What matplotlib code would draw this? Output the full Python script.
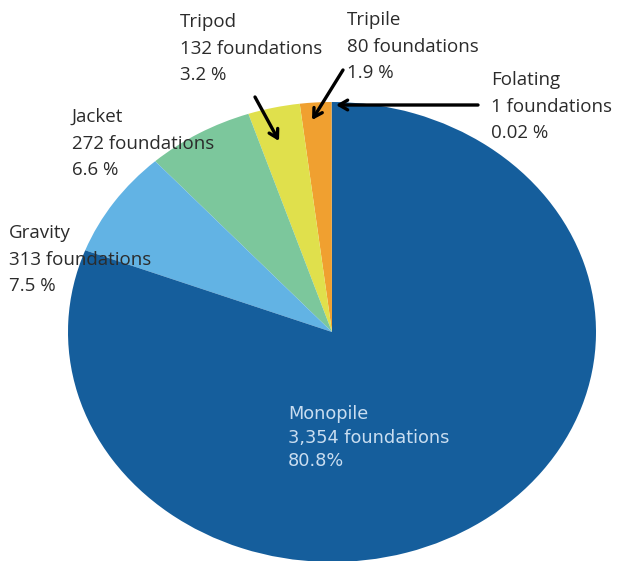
import matplotlib.pyplot as plt

# data, counter-clockwise from the top
names = ["Folating", "Tripile", "Tripod", "Jacket", "Gravity", "Monopile"]
counts = [1, 80, 132, 272, 313, 3354]
count_labels = ["1", "80", "132", "272", "313", "3,354"]
pct_labels = ["0.02 %", "1.9 %", "3.2 %", "6.6 %", "7.5 %", "80.8%"]
colors = ["#155e9c", "#f0a030", "#e0e04c", "#7cc79c", "#62b3e4", "#155e9c"]

W, H = 619, 561
cx, cy, rx, ry = 332, 332, 264, 230

fig = plt.figure(figsize=(W / 100, H / 100), dpi=100)
ax = fig.add_axes([(cx - rx) / W, (H - cy - ry) / H, 2 * rx / W, 2 * ry / H])
ax.pie(counts, colors=colors, startangle=90, counterclock=True,
       wedgeprops=dict(linewidth=0))
ax.set_aspect("auto")
ax.set_xlim(-1, 1)
ax.set_ylim(-1, 1)
ax.axis("off")


def px(x, y):
    return x / W, 1 - y / H


txt = "#2b2b2b"
fs = 13.5
# label top-left corners in pixels
label_pos = {
    "Folating": (491, 71),
    "Tripile": (347, 11),
    "Tripod": (180, 13),
    "Jacket": (72, 108),
    "Gravity": (9, 224),
}
for i, n in enumerate(names[:-1]):
    x, y = label_pos[n]
    s = f"{n}\n{count_labels[i]} foundations\n{pct_labels[i]}"
    fig.text(*px(x, y), s, ha="left", va="top", fontsize=fs, color=txt,
             family="Open Sans", linespacing=1.62)

s = f"{names[-1]}\n{count_labels[-1]} foundations\n{pct_labels[-1]}"
fig.text(*px(288, 405), s, ha="left", va="top", fontsize=12.8,
         color="#c9ddf0", family="DejaVu Sans", linespacing=1.4)

# arrows (tail -> head, pixels)
arrows = [((478, 105), (336, 105)),
          ((343, 70), (312, 120)),
          ((255, 97), (279, 141))]
for tail, head in arrows:
    fig.add_artist(plt.Annotation(
        "", xy=px(*head), xytext=px(*tail), xycoords="figure fraction",
        textcoords="figure fraction",
        arrowprops=dict(arrowstyle="->,head_length=0.6,head_width=0.35",
                        color="black", lw=2.4, shrinkA=0, shrinkB=0)))

fig.savefig("out.png", dpi=100, facecolor="white")
